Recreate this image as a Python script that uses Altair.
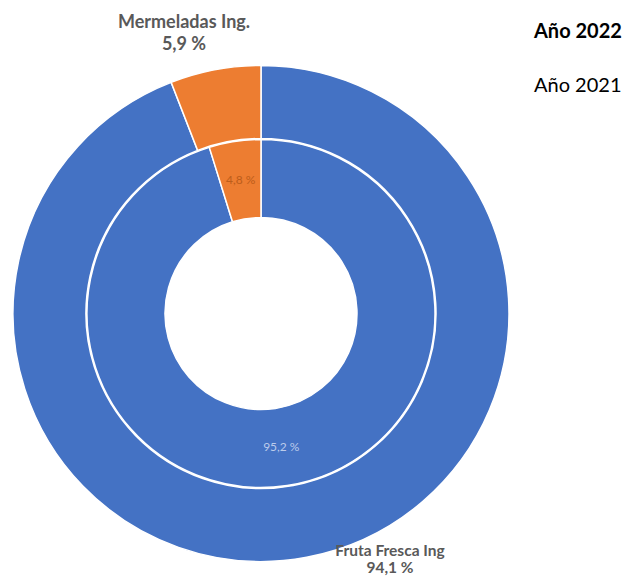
import altair as alt
import pandas as pd

categorias = ["Fruta Fresca Ing", "Mermeladas Ing."]
valores_2022 = [94.1, 5.9]
valores_2021 = [95.2, 4.8]
etiquetas_2022 = ["94,1 %", "5,9 %"]
etiquetas_2021 = ["95,2 %", "4,8 %"]
colores = ["#4472C4", "#ED7D31"]
series = ["Año 2022", "Año 2021"]

df22 = pd.DataFrame({"cat": categorias, "valor": valores_2022,
                     "etiqueta": etiquetas_2022, "orden": [0, 1]})
df21 = pd.DataFrame({"cat": categorias, "valor": valores_2021,
                     "etiqueta": etiquetas_2021, "orden": [0, 1]})

CX, CY = 253, 305.5
FONT = "Lato"

color = alt.Color("cat:N", scale=alt.Scale(domain=categorias, range=colores), legend=None)
theta = alt.Theta("valor:Q", stack=True)
order = alt.Order("orden:Q")

outer = alt.Chart(df22).mark_arc(
    outerRadius=248, innerRadius=175, stroke="white", strokeWidth=1.5
).encode(theta=theta, color=color, order=order, x=alt.value(CX), y=alt.value(CY))

inner = alt.Chart(df21).mark_arc(
    outerRadius=174, innerRadius=96, stroke="white", strokeWidth=1.5
).encode(theta=theta, color=color, order=order, x=alt.value(CX), y=alt.value(CY))

inner_text = alt.Chart(df21).mark_text(
    radius=135, font=FONT, fontSize=12, opacity=0.9
).encode(
    theta=theta, order=order, text="etiqueta:N",
    x=alt.value(CX), y=alt.value(CY),
    color=alt.condition(alt.datum.cat == "Mermeladas Ing.", alt.value("#B85A18"), alt.value("#C9D6F0")),
)

def outer_label(cat, x, y, size, gap):
    base = alt.Chart(df22).transform_filter(alt.datum.cat == cat)
    name = base.mark_text(font=FONT, fontSize=size, fontWeight="bold", color="#595959",
                          baseline="middle", align="center").encode(
        text="cat:N", x=alt.value(x), y=alt.value(y))
    pct = base.mark_text(font=FONT, fontSize=size, fontWeight="bold", color="#595959",
                         baseline="middle", align="center").encode(
        text="etiqueta:N", x=alt.value(x), y=alt.value(y + gap))
    return name + pct

lab_merm = outer_label("Mermeladas Ing.", 176, 15, 18, 22)
lab_fruta = outer_label("Fruta Fresca Ing", 382, 543, 15.5, 17)

df_series = pd.DataFrame({"serie": series})
leg22 = alt.Chart(df_series).transform_filter(alt.datum.serie == "Año 2022").mark_text(
    font=FONT, fontSize=20, fontWeight="bold", color="#000000", align="left", baseline="alphabetic"
).encode(text="serie:N", x=alt.value(526), y=alt.value(29.5))
leg21 = alt.Chart(df_series).transform_filter(alt.datum.serie == "Año 2021").mark_text(
    font=FONT, fontSize=20, color="#000000", align="left", baseline="alphabetic"
).encode(text="serie:N", x=alt.value(526), y=alt.value(84))

chart = alt.layer(outer, inner, inner_text, lab_merm, lab_fruta, leg22, leg21).properties(
    width=614, height=572, autosize=alt.AutoSizeParams(type="none"), padding=0
).configure_view(stroke=None)

chart.save("out.html", embed_options={"renderer": "svg", "actions": False})
